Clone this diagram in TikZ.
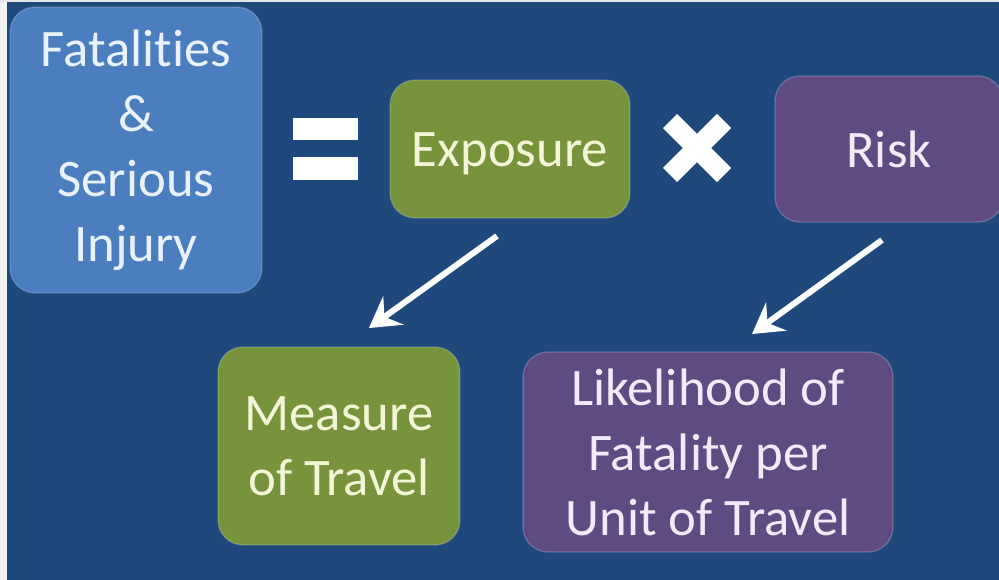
\documentclass[tikz,border=0pt]{standalone}
\usepackage{fontspec}
\setmainfont[Ligatures=NoCommon]{Carlito}
\usetikzlibrary{arrows.meta}

\definecolor{slide}{RGB}{31,73,125}
\definecolor{boxblue}{RGB}{74,126,191}
\definecolor{boxgreen}{RGB}{119,147,60}
\definecolor{boxpurple}{RGB}{96,74,130}

\begin{document}
\begin{tikzpicture}[x=0.02cm, y=-0.02cm,
    every node/.style={font=\fontsize{30}{37}\selectfont, align=center},
    card/.style={rectangle, rounded corners=0.5cm, draw=white, draw opacity=0.2, line width=0.8pt},
    flow/.style={white, line width=0.12cm, -{Stealth[length=0.6cm, width=0.7cm, inset=0.22cm]}}]
			% Slide
			\useasboundingbox (0,0) rectangle (999,580);
			\clip (0,0) rectangle (999,580);
			\fill[slide] (0,0) rectangle (999,580);
			\fill[gray!10] (0,0) rectangle (7,580);
			\fill[gray!20] (0,0) rectangle (999,2);

			% Top row
			\node[card, fill=boxblue, text={rgb,255:red,235;green,241;blue,250}, minimum width=5.04cm, minimum height=5.72cm] (fatal) at (136,150) {Fatalities\\\&\\Serious\\Injury};
			\node[card, fill=boxgreen, text={rgb,255:red,242;green,246;blue,215}, minimum width=4.8cm, minimum height=2.76cm, text height=0.86cm] (exposure) at (510,149) {Exposure};
			\node[card, fill=boxpurple, text={rgb,255:red,242;green,234;blue,246}, minimum width=4.56cm, minimum height=2.92cm] (risk) at (889,149) {Risk};

			% Equals and times
			\fill[white] (293,118) rectangle (358,140);
			\fill[white] (293,157) rectangle (358,180);
			\draw[white, line width=0.4cm] (670,121) -- (724,175);
			\draw[white, line width=0.4cm] (724,121) -- (670,175);

			% Bottom row
			\node[card, fill=boxgreen, text={rgb,255:red,242;green,246;blue,215}, minimum width=4.84cm, minimum height=3.96cm] (measure) at (339,446) {Measure\\of Travel};
			\node[card, fill=boxpurple, text={rgb,255:red,242;green,234;blue,246}, minimum width=7.4cm, minimum height=4cm] (likely) at (708,452) {Likelihood of\\Fatality per\\Unit of Travel};

			% Arrows
			\coordinate (expo-tail) at (497,236);
			\coordinate (expo-head) at (369,328);
			\coordinate (risk-tail) at (882,240);
			\coordinate (risk-head) at (752,334);
			\draw[flow] (expo-tail) -- (expo-head);
			\draw[flow] (risk-tail) -- (risk-head);
		\end{tikzpicture}
\end{document}
